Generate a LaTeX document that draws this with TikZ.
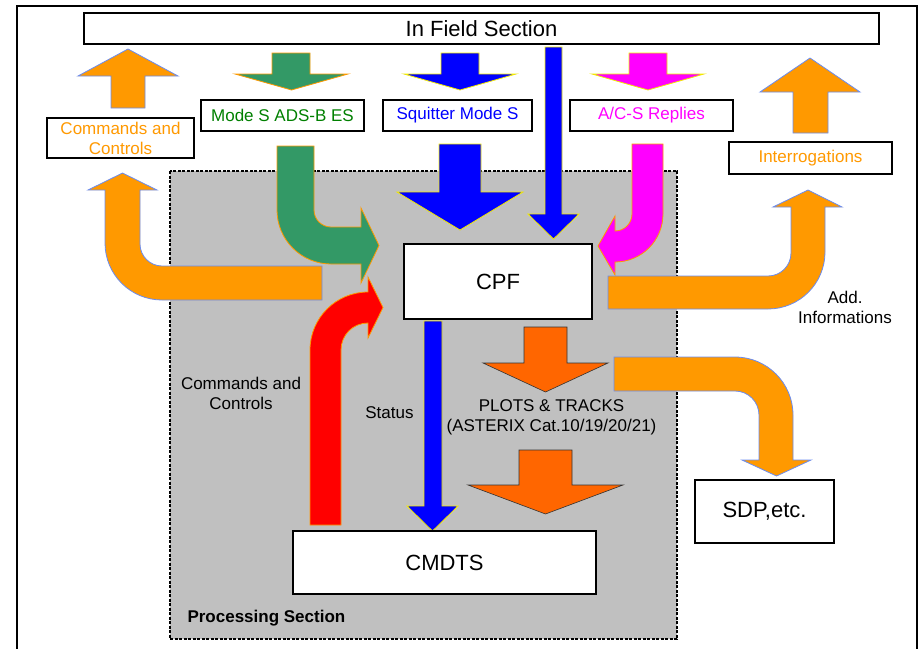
\documentclass[tikz,border=0pt]{standalone}
\usepackage{fontspec}
\setmainfont{Liberation Sans}

\definecolor{arrorange}{HTML}{FF9900}
\definecolor{arrgreen}{HTML}{339966}
\definecolor{txtgreen}{HTML}{008000}
\definecolor{arrmagenta}{HTML}{FF00FF}
\definecolor{edgeblue}{HTML}{6A8CF0}
\definecolor{edgeyellow}{HTML}{F2EA00}
\definecolor{plotorange}{HTML}{FF6600}
\definecolor{procgray}{HTML}{C0C0C0}

% style, shaft left, shaft right, shaft end, head base, head left, head right, tip
\newcommand{\blockarrow}[8]{%
\draw[#1] (#2,#4) -- (#3,#4) -- (#3,#5) -- (#7,#5) -- ({(#6+#7)/2},#8) -- (#6,#5) -- (#2,#5) -- cycle;}

\begin{document}
\begin{tikzpicture}[x=1pt,y=-1pt,
  box/.style={draw=black,line width=1.5pt,fill=white,inner sep=0pt},
  bigtext/.style={font=\fontsize{22}{26}\selectfont},
  lbltext/.style={font=\fontsize{17}{20}\selectfont,align=center},
  orangearr/.style={fill=arrorange,draw=edgeblue,line width=0.8pt},
  greenarr/.style={fill=arrgreen,draw=arrorange,line width=0.8pt},
  bluearr/.style={fill=blue,draw=edgeyellow,line width=0.8pt},
  magarr/.style={fill=arrmagenta,draw=arrorange,line width=0.8pt},
  redarr/.style={fill=red,draw=arrorange,line width=0.8pt},
  plotarr/.style={fill=plotorange,draw=black!80,line width=0.6pt}]
\useasboundingbox (0,0) rectangle (920,648);

\draw[line width=1.6pt] (17,652) -- (17,6) -- (917,6) -- (917,652); %frame
\draw[fill=procgray,line width=1.2pt,dash pattern=on 3pt off 1.5pt] (170,171) rectangle (677,639); %processing

%straight arrows
\blockarrow{orangearr}{111}{145}{108}{76}{78}{178}{49}
\blockarrow{greenarr}{272}{310}{53}{74}{235}{348}{90}
\blockarrow{bluearr}{441}{479}{53}{74}{404}{516}{90}
\blockarrow{magarr,draw=edgeyellow}{629}{667}{53}{74}{592}{704}{90}
\blockarrow{orangearr}{793}{828}{133}{92}{760}{860}{58}
\blockarrow{bluearr}{439}{481}{144}{192}{397}{523}{230}
\blockarrow{bluearr}{545}{562}{47}{214}{528}{579}{239}
\blockarrow{bluearr}{424}{442}{321}{506}{407}{458}{531} %status
\blockarrow{plotarr}{524}{567}{327}{363}{483}{608}{392}
\blockarrow{plotarr}{519}{572}{450}{485}{468}{623}{514}

%bent arrows
\draw[greenarr] (277,146) -- (314,146) -- (314,210) .. controls (314,219.4) and (321.6,227) .. (331,227)
  -- (361,227) -- (361,208) -- (379,245.5) -- (361,283) -- (361,264) -- (331,264)
  .. controls (301.2,264) and (277,239.8) .. (277,210) -- cycle; %mode s
\draw[orangearr] (322,266) -- (162,266) .. controls (149.9,266) and (140,256.1) .. (140,244)
  -- (140,190) -- (157,190) -- (122.5,173) -- (88,190) -- (105,190) -- (105,243)
  .. controls (105,274.5) and (130.5,300) .. (162,300) -- (322,300) -- cycle; %commands
\draw[redarr] (310,525) -- (310,350) .. controls (310,318) and (336,292) .. (368,292)
  -- (368,277) -- (383,307.5) -- (368,338) -- (368,323)
  .. controls (353.1,323) and (341,334.9) .. (341,350) -- (341,525) -- cycle; %cmdts
\draw[magarr] (632,144) -- (663,144) -- (663,214) .. controls (663,240.5) and (641.5,262) .. (615,262)
  -- (615,275) -- (598,246) -- (615,216) -- (615,231)
  .. controls (624.4,231) and (632,223.4) .. (632,214) -- cycle; %replies
\draw[orangearr] (608,276) -- (768,276) .. controls (780.7,276) and (791,265.7) .. (791,253)
  -- (791,207) -- (773,207) -- (808,190) -- (842,207) -- (825,207) -- (825,252)
  .. controls (825,283.5) and (799.5,309) .. (768,309) -- (608,309) -- cycle; %interrogations
\draw[orangearr] (614,357) -- (735,357) .. controls (767,357) and (793,383) .. (793,415)
  -- (793,460) -- (811,460) -- (776.5,476) -- (742,460) -- (759,460) -- (759,415)
  .. controls (759,401.8) and (748.2,391) .. (735,391) -- (614,391) -- cycle; %sdp

%boxes
\node[box,bigtext,minimum width=795pt,minimum height=31pt] (infield) at (481.5,28.5) {In Field Section};
\node[box,lbltext,text=arrorange,minimum width=147pt,minimum height=40pt] (cmdtop) at (120.5,138) {Commands and\\Controls};
\node[box,lbltext,text=txtgreen,minimum width=163pt,minimum height=31pt] (modes) at (282.5,115.5) {Mode S ADS-B ES};
\node[box,lbltext,text=blue,minimum width=149pt,minimum height=31pt] (squitter) at (457.5,115.5) {Squitter Mode S};
\node[box,lbltext,text=arrmagenta,minimum width=163pt,minimum height=31pt] (replies) at (651.5,115.5) {A/C-S Replies};
\node[box,lbltext,text=arrorange,minimum width=163pt,minimum height=32pt] (interr) at (810.5,158) {Interrogations};
\node[box,bigtext,minimum width=188pt,minimum height=75pt] (cpf) at (498,281.5) {CPF};
\node[box,bigtext,minimum width=303pt,minimum height=63pt] (cmdts) at (444.5,562.5) {CMDTS};
\node[box,bigtext,minimum width=139pt,minimum height=63pt] (sdp) at (764.5,511.5) {SDP,etc.};

%labels
\node[lbltext] (cmdlbl) at (241,393) {Commands and\\Controls};
\node[lbltext] (statuslbl) at (389.5,413) {Status};
\node[lbltext] (plotslbl) at (551.5,417) {PLOTS \& TRACKS\\(ASTERIX Cat.10/19/20/21)};
\node[lbltext] (addlbl) at (845,307) {Add.\\Informations};
\node[lbltext,font=\bfseries\fontsize{17}{20}\selectfont,anchor=west] (proclbl) at (184,618) {Processing Section};

\end{tikzpicture}
\end{document}
